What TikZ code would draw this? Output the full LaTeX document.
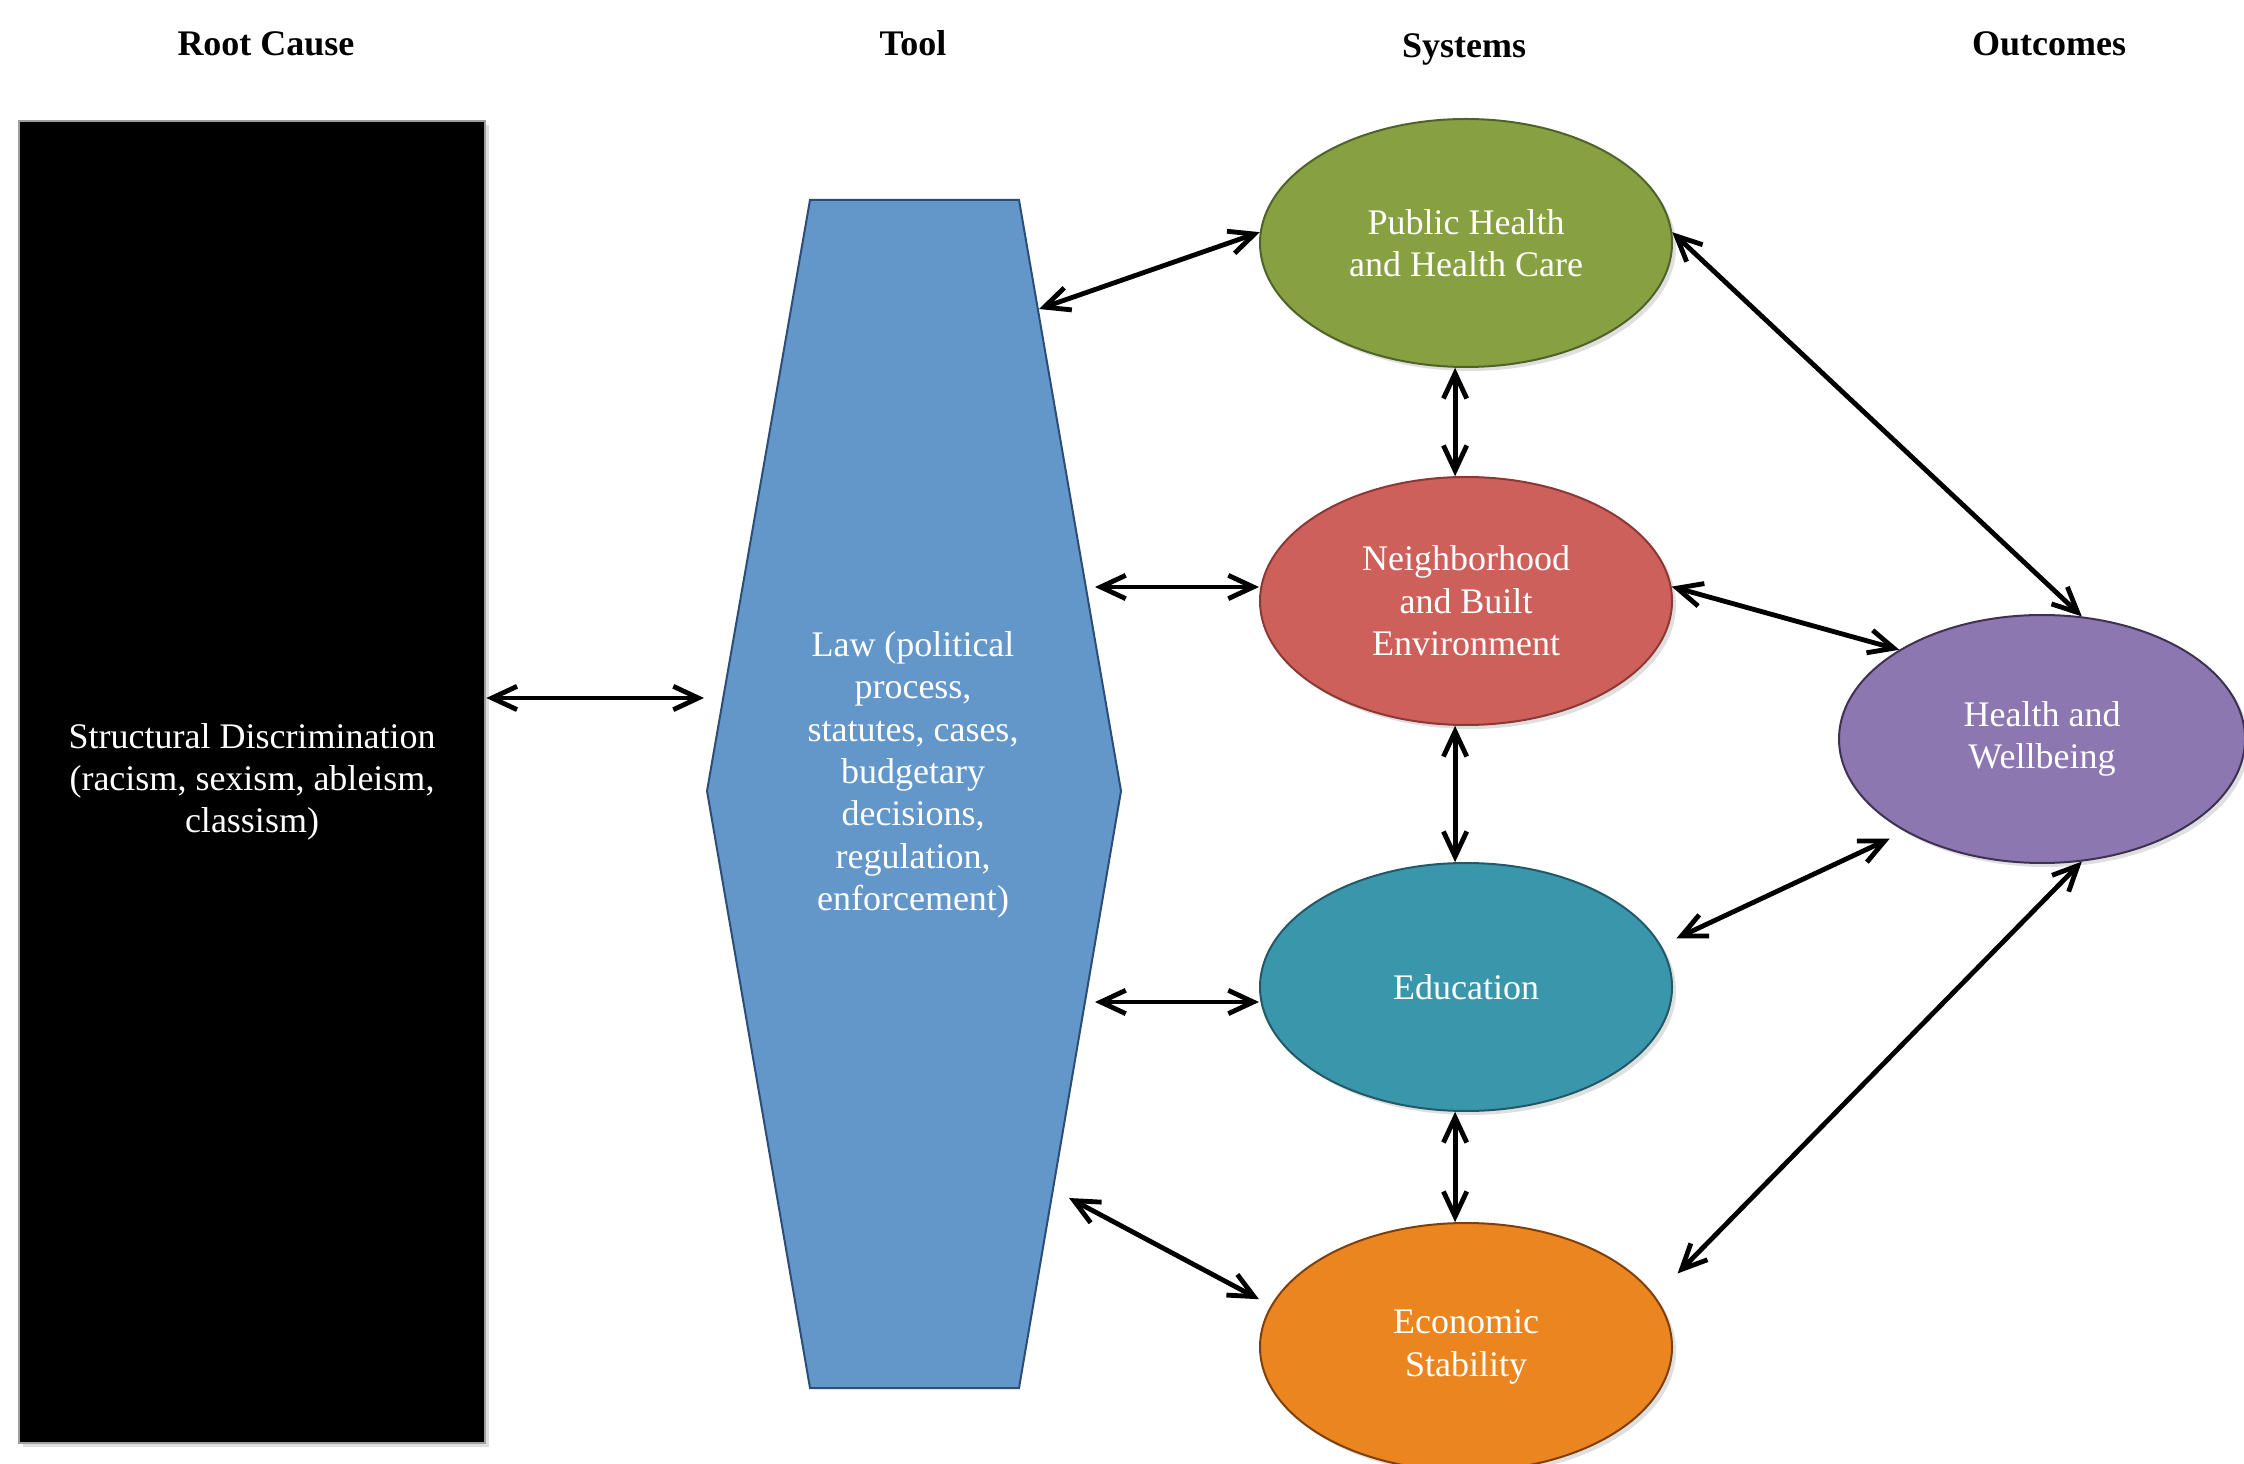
\documentclass[tikz,border=0pt]{standalone}
\usepackage{fontspec}
\setmainfont{Liberation Serif}
\usetikzlibrary{arrows.meta,shapes.geometric,shadows}
\definecolor{phgreen}{HTML}{87A142}
\definecolor{phgreenedge}{HTML}{4F6228}
\definecolor{nbred}{HTML}{CD605A}
\definecolor{nbrededge}{HTML}{8C3836}
\definecolor{edteal}{HTML}{3A97AB}
\definecolor{edtealedge}{HTML}{215968}
\definecolor{ecorange}{HTML}{EB8520}
\definecolor{ecorangeedge}{HTML}{7F3F0A}
\definecolor{hwpurple}{HTML}{8C77B0}
\definecolor{hwpurpleedge}{HTML}{3F3151}
\definecolor{lawblue}{HTML}{6397CA}
\definecolor{lawedge}{HTML}{2C4D75}
\begin{document}
\begin{tikzpicture}[x=0.3pt,y=-0.3pt,
  every node/.style={font=\fontsize{10.8}{12.7}\selectfont},
  header/.style={font=\fontsize{10.8}{13}\selectfont\bfseries, anchor=base},
  sysnode/.style={ellipse, minimum width=123.6pt, minimum height=74.4pt, inner sep=0pt,
    text=white, align=center, line width=0.6pt,
    drop shadow={opacity=0.25,shadow xshift=1.2pt,shadow yshift=-1.2pt}},
  link/.style={{Straight Barb[length=7.5pt,width=7pt]}-{Straight Barb[length=7.5pt,width=7pt]},
    line width=1.45pt, black},
]
\useasboundingbox (0,0) rectangle (2244,1464);

% headers
\node[header] (hroot) at (266,56) {Root Cause};
\node[header] (htool) at (913,56) {Tool};
\node[header] (hsys) at (1464,58) {Systems};
\node[header] (hout) at (2049,56) {Outcomes};

% root cause box
\node[draw=gray!75, line width=0.8pt, fill=black, text=white, align=center,
  minimum width=139.8pt, minimum height=396.6pt, inner sep=0pt,
  drop shadow={opacity=0.25,shadow xshift=1.2pt,shadow yshift=-1.2pt}]
  (root) at (252,782) {Structural Discrimination\\(racism, sexism, ableism,\\classism)};

% law hexagon
\coordinate (hTL) at (810,200);
\coordinate (hTR) at (1019,200);
\coordinate (hR) at (1121,791);
\coordinate (hBR) at (1019,1388);
\coordinate (hBL) at (810,1388);
\coordinate (hL) at (707,791);
\draw[fill=lawblue, draw=lawedge, line width=0.6pt]
  (hTL) -- (hTR) -- (hR) -- (hBR) -- (hBL) -- (hL) -- cycle;
\node[text=white, align=center] (law) at (913,775)
  {Law (political\\process,\\statutes, cases,\\budgetary\\decisions,\\regulation,\\enforcement)};

% arrow ends on the law shape
\coordinate (lawL) at (704,698);
\coordinate (lawG) at (1039,309);
\coordinate (lawN) at (1095,587);
\coordinate (lawE) at (1095,1002);
\coordinate (lawO) at (1069,1198);

% systems
\node[sysnode, fill=phgreen, draw=phgreenedge] (green) at (1466,243) {Public Health\\and Health Care};
\node[sysnode, fill=nbred, draw=nbrededge] (red) at (1466,601) {Neighborhood\\and Built\\Environment};
\node[sysnode, fill=edteal, draw=edtealedge] (teal) at (1466,987) {Education};
\node[sysnode, fill=ecorange, draw=ecorangeedge] (orange) at (1466,1347) {Economic\\Stability};

% outcome
\node[sysnode, minimum width=121.8pt, fill=hwpurple, draw=hwpurpleedge] (purple) at (2042,739) {Health and\\Wellbeing};

% connectors
\draw[link] (root.east |- lawL) -- (lawL);
\draw[link] (lawG) -- (green.177);
\draw[link] (lawN) -- (red.west |- lawN);
\draw[link] (lawE) -- (teal.west |- lawE);
\draw[link, shorten >=4pt] (lawO) -- (orange.168);
\draw[link] (green.265) -- (red.95);
\draw[link] (red.265) -- (teal.95);
\draw[link] (teal.265) -- (orange.95);
\draw[link] (green.3) -- (purple.72);
\draw[link] (red.4) -- (purple.148);
\draw[link, shorten <=5pt, shorten >=5pt] (teal.12) -- (purple.214);
\draw[link, shorten <=9.6pt] (orange.15) -- (purple.288);
\end{tikzpicture}
\end{document}
